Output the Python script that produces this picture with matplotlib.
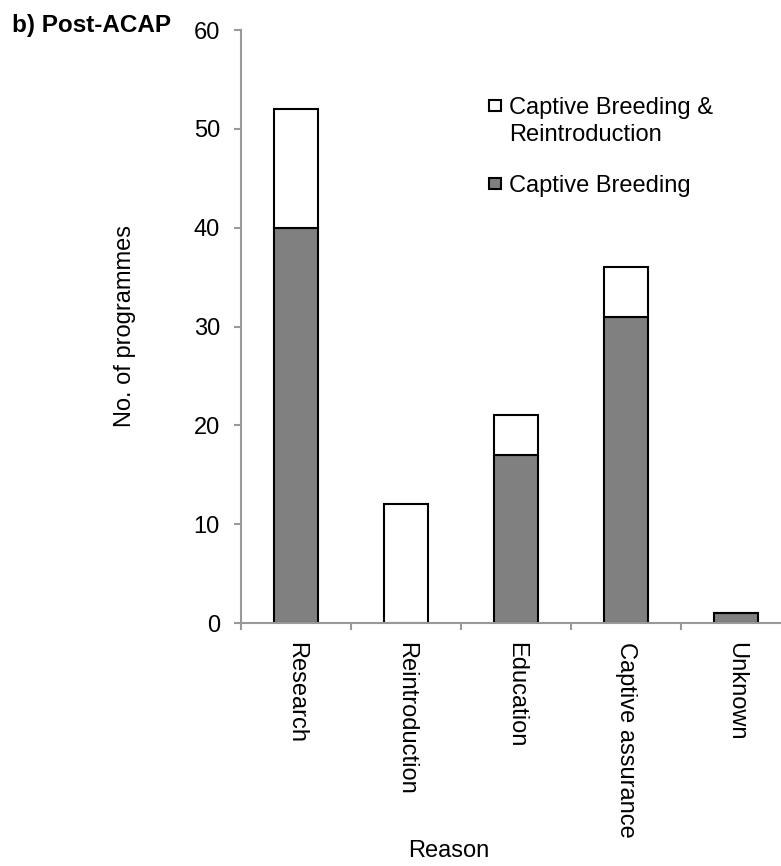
#######################################
# IMPORTS #############################
#######################################

import matplotlib.pyplot as plt
from matplotlib.patches import Rectangle
import numpy as np

plt.rcParams.update({
    "font.family": ["Liberation Sans", "DejaVu Sans"],
    'font.size': 17
})


#######################################
# Data ################################
#######################################

reasons = ["Research", "Reintroduction", "Education", "Captive assurance", "Unknown"]
captive_breeding = [40, 0, 17, 31, 1]
captive_breeding_reintro = [12, 12, 4, 5, 0]

y_ticks = [0, 10, 20, 30, 40, 50, 60]

grey_axis = '#999999'
grey_bar = '#808080'


#######################################
# Plotting ############################
#######################################

fig = plt.figure(figsize=(7.81, 8.66), dpi=100)

# axes run past the right edge of the figure, like the cropped original
ax1 = fig.add_axes([240.7 / 781, 243 / 866, 550 / 781, 593 / 866])

x = np.arange(len(reasons))

ax1.bar(x, captive_breeding, width=0.4, color=grey_bar,
        edgecolor='black', linewidth=1.5, zorder=2)
ax1.bar(x, captive_breeding_reintro, width=0.4, bottom=captive_breeding,
        color='white', edgecolor='black', linewidth=1.5, zorder=2)

# Axis limits and ticks
ax1.set_xlim(-0.5, len(reasons) - 0.5)
ax1.set_ylim(0, 60)
ax1.set_yticks(y_ticks)

ax1.set_xticks(x)
ax1.set_xticklabels(reasons, rotation=-90)
ax1.set_xticks(np.arange(len(reasons) + 1) - 0.5, minor=True)
ax1.tick_params(axis='x', which='major', length=0, pad=14)
ax1.tick_params(axis='x', which='minor', length=5, width=1.5,
                color=grey_axis, direction='out')
ax1.tick_params(axis='y', length=5, width=1.5, color=grey_axis, pad=10)

# Spines
for side in ['top', 'right']:
    ax1.spines[side].set_visible(False)
for side in ['left', 'bottom']:
    ax1.spines[side].set_color(grey_axis)
    ax1.spines[side].set_linewidth(1.5)
ax1.spines['bottom'].set_zorder(3)

# Labels
fig.text(12 / 781, 1 - 32 / 866, "b) Post-ACAP", fontweight='bold',
         fontsize=17.5, ha='left', va='baseline')
fig.text(125 / 781, 1 - 326 / 866, "No. of programmes", rotation=90,
         ha='center', va='center')
fig.text(449 / 781, 1 - 851 / 866, "Reason", ha='center', va='center')

# Legend (entries drawn by hand to keep the marker on the first line)
fig.add_artist(Rectangle((489 / 781, 1 - 111 / 866), 12 / 781, 11 / 866,
                         facecolor='white', edgecolor='black', linewidth=1.5,
                         transform=fig.transFigure))
fig.add_artist(Rectangle((489 / 781, 1 - 189 / 866), 12 / 781, 11 / 866,
                         facecolor=grey_bar, edgecolor='black', linewidth=1.5,
                         transform=fig.transFigure))
fig.text(509 / 781, 1 - 114 / 866, "Captive Breeding &", va='baseline')
fig.text(509 / 781, 1 - 141 / 866, "Reintroduction", va='baseline')
fig.text(509 / 781, 1 - 192 / 866, "Captive Breeding", va='baseline')


#######################################
# Export PNG ##########################
#######################################

plt.savefig("out.png", dpi=100)
